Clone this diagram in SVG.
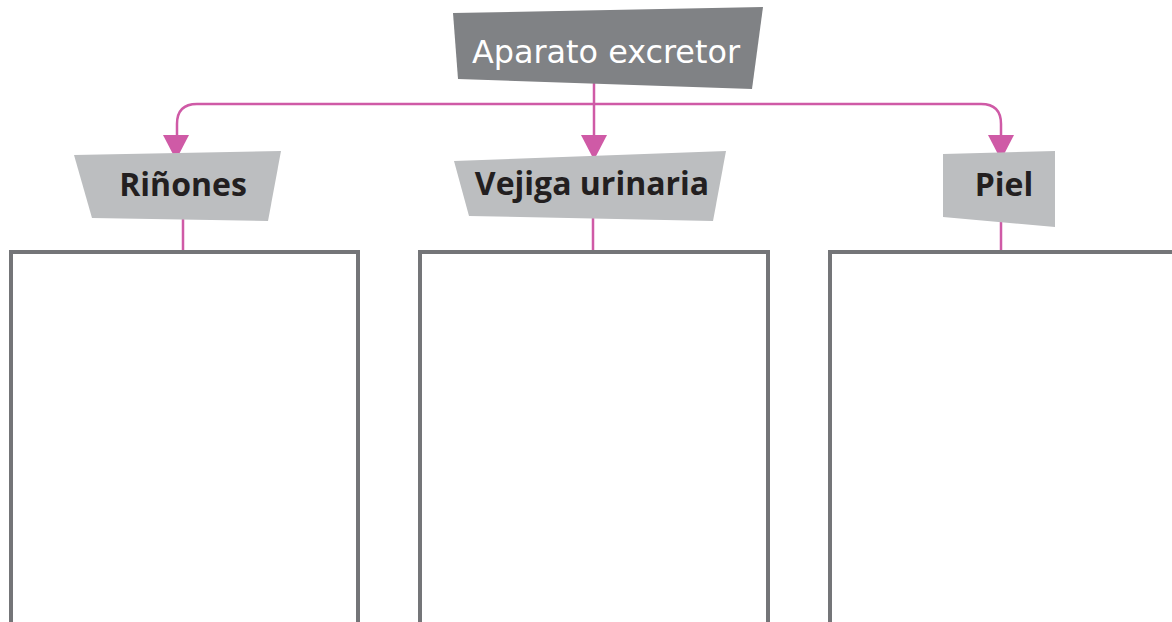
<svg xmlns="http://www.w3.org/2000/svg" width="1172" height="622" viewBox="0 0 1172 622">
<style>
.box{fill:none;stroke:#747578;stroke-width:4}
.tag{fill:#bcbec0}
.lbl{font-family:"Open Sans","Liberation Sans",sans-serif;font-weight:700;font-size:32px;fill:#231f20;text-anchor:middle}
.con{fill:none;stroke:#cf5aa6;stroke-width:2.5}
.head{fill:#cf5aa6}
</style>
<rect width="1172" height="622" fill="#ffffff"/>
<g id="connectors">
<path class="con" d="M594,80 V135"/>
<path class="con" d="M177,135 V124 Q177,104 197,104 H981 Q1001,104 1001,124 V135"/>
<path class="head" d="M163,135 L189,135 L176,160 Z"/>
<path class="head" d="M581,135 L607,135 L594,160 Z"/>
<path class="head" d="M988,135 L1014,135 L1001,160 Z"/>
<path class="con" d="M183,219 V251 M593,218 V251 M1001,222 V251"/>
</g>
<g id="header">
<polygon points="453,13 763,7 752,89 458,79" fill="#808285"/>
<text x="606" y="63" font-family="'DejaVu Sans',sans-serif" font-size="32" fill="#ffffff" text-anchor="middle" textLength="268" lengthAdjust="spacingAndGlyphs">Aparato excretor</text>
</g>
<g id="rinones">
<polygon class="tag" points="74,155 281,151 268,221 92,218"/>
<text class="lbl" x="183" y="196">Riñones</text>
</g>
<g id="vejiga">
<polygon class="tag" points="454,161 726,151 713,221 469,216"/>
<text class="lbl" x="592" y="195">Vejiga urinaria</text>
</g>
<g id="piel">
<polygon class="tag" points="943,154 1055,151 1055,227 943,217"/>
<text class="lbl" x="1004" y="196">Piel</text>
</g>
<g id="box1"><rect class="box" x="11" y="252" width="347" height="420"/></g>
<g id="box2"><rect class="box" x="420" y="252" width="348" height="420"/></g>
<g id="box3"><rect class="box" x="830" y="252" width="400" height="420"/></g>
</svg>
